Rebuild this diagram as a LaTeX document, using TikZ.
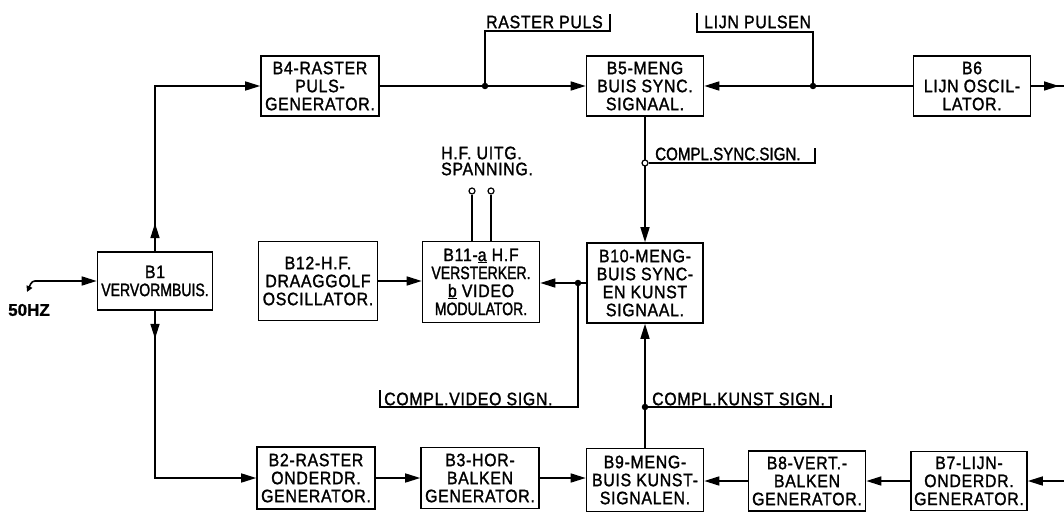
\documentclass[tikz,border=0pt]{standalone}
\usepackage{fontspec}
\setmainfont{Liberation Sans}
\newfontfamily\bxfont{Liberation Sans}[FakeStretch=0.88, LetterSpace=4, FakeBold=1.5]
\newfontfamily\bxnarrow{Liberation Sans}[FakeStretch=0.78, FakeBold=1.5]
\newfontfamily\lbnarrow{Liberation Sans}[FakeStretch=0.84, FakeBold=1.5]
\newfontfamily\hzfont{Liberation Sans}[FakeBold=1]
\usetikzlibrary{arrows.meta,decorations.markings}
\tikzset{
  blk/.style={draw, line width=1.6pt, inner sep=0pt, align=center,
    font=\bxfont\fontsize{18}{18}\selectfont},
  lbl/.style={inner sep=0pt, anchor=west, font=\bxfont\fontsize{18}{16}\selectfont},
  wire/.style={line width=1.6pt},
  thin wire/.style={line width=1.2pt},
  arr/.style={wire, -{Triangle[length=15pt,width=9pt]}},
  dotn/.style={circle, fill, inner sep=0pt, minimum size=6.5pt},
  odot/.style={circle, draw, fill=white, line width=1.2pt, inner sep=0pt, minimum size=6pt},
  midarrow/.style={postaction={decorate}, decoration={markings,
    mark=at position #1 with {\arrow{Triangle[length=15pt,width=9pt]}}}},
}
\begin{document}
\begin{tikzpicture}[x=1pt,y=-1pt]
\useasboundingbox (0,0) rectangle (1064,513);
% blocks
\node[blk, minimum width=118pt, minimum height=60pt] (B4) at (320,86) {B4-RASTER\\PULS-\\GENERATOR.};
\node[blk, minimum width=117pt, minimum height=60pt] (B5) at (645,86) {B5-MENG\\BUIS SYNC.\\SIGNAAL.};
\node[blk, minimum width=117pt, minimum height=60pt] (B6) at (972,86) {B6\\LIJN OSCIL-\\LATOR.};
\node[blk, minimum width=115pt, minimum height=58pt] (B1) at (155,281) {B1\\{\bxnarrow VERVORMBUIS.}};
\node[blk, minimum width=119pt, minimum height=79pt] (B12) at (318,281) {B12-H.F.\\DRAAGGOLF\\OSCILLATOR.};
\node[blk, minimum width=117pt, minimum height=81pt] (B11) at (481,282) {B11-\underline{a} H.F\\{\bxnarrow VERSTERKER.}\\\underline{b} VIDEO\\{\bxnarrow MODULATOR.}};
\node[blk, minimum width=116pt, minimum height=80pt] (B10) at (645,283) {B10-MENG-\\BUIS SYNC-\\EN KUNST\\SIGNAAL.};
\node[blk, minimum width=118pt, minimum height=62pt] (B2) at (316,478) {B2-RASTER\\ONDERDR.\\GENERATOR.};
\node[blk, minimum width=118pt, minimum height=61pt] (B3) at (480,478) {B3-HOR-\\BALKEN\\GENERATOR.};
\node[blk, minimum width=117pt, minimum height=63pt] (B9) at (645,480) {B9-MENG-\\BUIS KUNST-\\SIGNALEN.};
\node[blk, minimum width=117pt, minimum height=60pt] (B8) at (807,481) {B8-VERT.-\\BALKEN\\GENERATOR.};
\node[blk, minimum width=116pt, minimum height=59pt] (B7) at (969,481) {B7-LIJN-\\ONDERDR.\\GENERATOR.};
% input
\node[inner sep=0pt, font=\hzfont\bfseries\fontsize{17}{18}\selectfont] (hz) at (29,310) {50HZ};
\coordinate (in0) at (27,292);
\coordinate (in1) at (32,281);
\draw[wire, {Triangle[length=6pt,width=6pt]}-{Triangle[length=15pt,width=9pt]}, rounded corners=3pt]
  (in0) -- (in1) -- (in1 -| B1.west);
% B1 to B4 and B2
\draw[wire, midarrow=28pt, -{Triangle[length=15pt,width=9pt]}] (B1.north) |- (B4.west);
\draw[wire, midarrow=28pt, -{Triangle[length=15pt,width=9pt]}] (B1.south) |- (B2.west);
% top row
\draw[arr] (B4.east) -- (B5.west);
\draw[arr] (B6.west) -- (B5.east);
\coordinate (out6) at (1064,86);
\draw[wire, midarrow=-5pt] (B6.east) -- (out6);
\node[dotn] (d1) at (485,86) {};
\node[dotn] (d2) at (813,86) {};
\coordinate (r1) at (485,31);
\coordinate (r2) at (610,31);
\coordinate (r3) at (610,14);
\draw[thin wire] (d1.center) -- (r1) -- (r2) -- (r3);
\node[lbl] (lrp) at (486,22) {RASTER PULS};
\coordinate (p1) at (813,32);
\coordinate (p2) at (697,32);
\coordinate (p3) at (697,13);
\draw[thin wire] (d2.center) -- (p1) -- (p2) -- (p3);
\node[lbl] (llp) at (704,22) {LIJN PULSEN};
% B5 to B10
\draw[arr] (B5.south) -- (B10.north);
\node[odot] (o1) at (645,163) {};
\coordinate (s1) at (815,163);
\coordinate (s2) at (815,148);
\draw[thin wire] (o1.east) -- (s1) -- (s2);
\node[lbl, font=\lbnarrow\fontsize{18}{16}\selectfont] (lss) at (655,154) {COMPL.SYNC.SIGN.};
% B9 to B10
\draw[arr] (B9.north) -- (B10.south);
\node[dotn] (d3) at (645,407) {};
\coordinate (k1) at (831,407);
\coordinate (k2) at (831,395);
\draw[thin wire] (d3.center) -- (k1) -- (k2);
\node[lbl] (lks) at (652,399) {COMPL.KUNST SIGN.};
% B10 to B11
\draw[arr] (B10.west) -- (B10.west -| B11.east);
\node[dotn] (d4) at (578,283) {};
\coordinate (v1) at (578,407);
\coordinate (v2) at (380,407);
\coordinate (v3) at (380,390);
\draw[thin wire] (d4.center) -- (v1) -- (v2) -- (v3);
\node[lbl] (lvs) at (384,399) {COMPL.VIDEO SIGN.};
% B12 to B11
\draw[arr] (B12.east) -- (B12.east -| B11.west);
% HF output terminals
\node[odot] (t1) at (472,191) {};
\node[odot] (t2) at (491,191) {};
\draw[thin wire] (t1.south) -- (t1.south |- B11.north);
\draw[thin wire] (t2.south) -- (t2.south |- B11.north);
\node[lbl, align=left] (lhf) at (441,161) {H.F. UITG.\\SPANNING.};
% bottom row
\draw[arr] (B2.east) -- (B3.west);
\draw[arr] (B3.east) -- (B3.east -| B9.west);
\draw[arr] (B8.west) -- (B8.west -| B9.east);
\draw[arr] (B7.west) -- (B8.east);
\coordinate (in7) at (1064,481);
\draw[arr] (in7) -- (B7.east);
\end{tikzpicture}
\end{document}
